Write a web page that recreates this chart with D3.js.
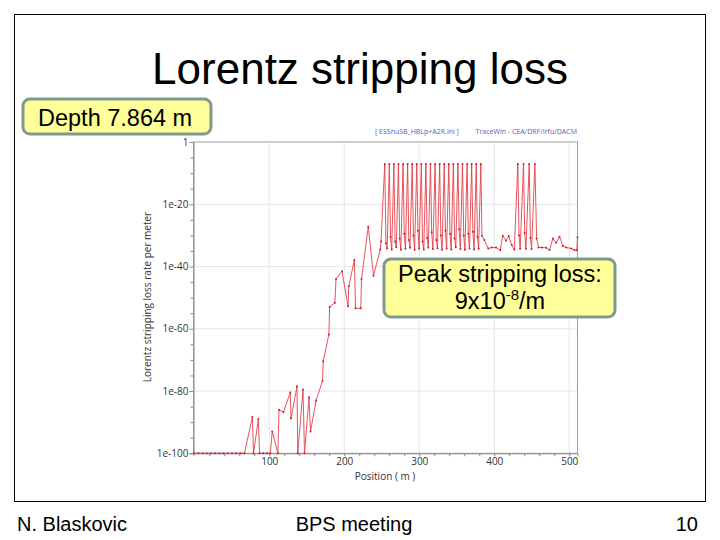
<!DOCTYPE html>
<html>
<head>
<meta charset="utf-8">
<script src="https://cdn.jsdelivr.net/npm/d3@7/dist/d3.min.js"></script>
<style>
  html, body { margin: 0; padding: 0; background: #fff; }
  svg { display: block; }
</style>
</head>
<body>
<svg id="slide" width="720" height="540"></svg>
<script>
// ---------------- data ----------------
const titleText = "Lorentz stripping loss";
const depthText = "Depth 7.864 m";
const footerLeft = "N. Blaskovic";
const footerMid = "BPS meeting";
const footerRight = "10";
const fileTag = "[ ESSnuSB_HBLp+A2R.ini ]";
const toolTag = "TraceWin - CEA/DRF/Irfu/DACM";
const xLabel = "Position ( m )";
const yLabel = "Lorentz stripping loss rate per meter";

const xTickValues = [100, 200, 300, 400, 500];
const yTickExponents = [0, -20, -40, -60, -80, -100];
const yTickLabels = ["1", "1e-20", "1e-40", "1e-60", "1e-80", "1e-100"];

// Position along the line (m)
const position = [
  0, 5.6, 11.2, 16.7, 22.3, 27.9, 33.5, 39.0, 44.6, 50.2, 55.8, 61.3, 66.9,
  77.5, 79.0, 85.5, 87.0, 92.0, 97.0, 101.5, 104.0, 111.5, 113.0, 119.0,
  128.0, 129.0, 137.0, 138.0, 145.0, 147.0, 153.0, 155.0, 162.5, 171.0,
  172.0, 179.5, 180.5, 187.5, 189.0, 197.0, 205.0, 206.0, 213.5, 215.0,
  222.0, 223.0, 232.0, 239.0, 248.0, 249.0,
  254.0, 255.6, 257.2, 260.1, 261.7, 263.3, 266.2, 267.8, 269.4, 272.3, 273.9, 275.5,
  278.4, 280.0, 281.6, 284.5, 286.1, 287.7, 290.6, 292.2, 293.8, 296.7, 298.3, 299.9,
  302.8, 304.4, 306.0, 308.9, 310.5, 312.1, 315.0, 316.6, 318.2, 321.1, 322.7, 324.3,
  327.2, 328.8, 330.4, 333.3, 334.9, 336.5, 339.4, 341.0, 342.6, 345.5, 347.1, 348.7,
  351.6, 353.2, 354.8, 357.7, 359.3, 360.9, 363.8, 365.4, 367.0, 369.9, 371.5, 373.1,
  376.0, 377.6, 379.2, 382.1,
  383.6, 386.8, 392.0, 396.6, 402.4, 408.0, 411.3, 415.7, 419.3, 423.3, 426.8,
  431.4, 433.0, 434.6, 439.0, 440.6, 442.2, 446.6, 448.2, 449.8, 454.2,
  456.5, 459.0, 463.5, 469.2, 473.7, 478.2, 482.6, 487.0, 491.6, 496.0,
  502.7, 507.0, 510.0, 511.0
];

// Loss rate per meter, in decades (log10 of the value)
const logRate = [
  -100, -100, -100, -100, -100, -100, -100, -100, -100, -100, -100, -100, -100,
  -88.3, -100, -89.0, -100, -100, -100, -100, -93.0, -100, -86.0, -86.7,
  -80.5, -88.8, -78.5, -100, -79.5, -100, -82.0, -93.0, -83.0, -76.8,
  -70.4, -61.8, -53.0, -51.6, -44.0, -41.5, -52.8, -46.3, -37.9, -53.4,
  -53.4, -44.0, -27.2, -43.0, -34.5, -32.0,
  -7.1, -32.5, -34.2, -7.1, -30.5, -34.5, -7.1, -32.0, -33.8, -7.1, -31.0, -34.6,
  -7.1, -29.5, -34.3, -7.1, -31.5, -34.0, -7.1, -30.0, -34.6, -7.1, -28.5, -34.2,
  -7.1, -32.0, -34.5, -7.1, -30.8, -33.9, -7.1, -29.0, -34.4, -7.1, -31.5, -34.1,
  -7.1, -30.0, -34.6, -7.1, -28.5, -34.2, -7.1, -29.5, -34.5, -7.1, -31.0, -33.8,
  -7.1, -28.0, -34.4, -7.1, -30.0, -34.6, -7.1, -29.5, -34.2, -7.1, -28.8, -34.5,
  -7.1, -30.5, -34.3, -7.1,
  -30.1, -31.5, -34.2, -33.9, -33.9, -34.7, -30.1, -31.7, -30.2, -33.1, -34.5,
  -7.1, -30.0, -34.3, -7.1, -29.2, -34.3, -7.1, -30.8, -34.4, -7.1,
  -31.0, -33.9, -33.9, -34.0, -34.7, -31.0, -32.4, -30.4, -33.4, -33.9,
  -34.2, -34.7, -34.8, -30.6
];

const peakLine1 = "Peak stripping loss:";
const peakMantissa = "9x10";
const peakExponent = "-8";
const peakUnit = "/m";

// ---------------- drawing ----------------
const svg = d3.select("#slide");
const slideFont = "'Liberation Sans', Arial, sans-serif";
const chartFont = "'Open Sans', 'Noto Sans', sans-serif";

svg.append("rect").attr("width", 720).attr("height", 540).attr("fill", "#fff");

// slide frame
svg.append("rect").attr("x", 14.5).attr("y", 14.5).attr("width", 691).attr("height", 487)
  .attr("fill", "none").attr("stroke", "#000").attr("stroke-width", 1);

// title
svg.append("text").attr("x", 360).attr("y", 84).attr("text-anchor", "middle")
  .attr("font-family", slideFont).attr("font-size", 44).attr("fill", "#000").text(titleText);

// plot area
const plot = { left: 193.5, right: 577.5, top: 142, bottom: 453.3 };
const x = d3.scaleLinear().domain([-1, 511]).range([plot.left, plot.right]);
const y = d3.scaleLog().domain([1e-100, 1]).range([plot.bottom, plot.top]);

const data = position.map((p, i) => ({ p, v: Math.pow(10, logRate[i]) }));

const g = svg.append("g");

// grid
g.append("g").selectAll("line").data(xTickValues).join("line")
  .attr("x1", d => x(d)).attr("x2", d => x(d)).attr("y1", plot.top).attr("y2", plot.bottom)
  .attr("stroke", "#e6e6e6").attr("stroke-width", 1);
g.append("g").selectAll("line").data(yTickExponents.filter(e => e !== 0 && e !== -100)).join("line")
  .attr("x1", plot.left).attr("x2", plot.right)
  .attr("y1", d => y(Math.pow(10, d))).attr("y2", d => y(Math.pow(10, d)))
  .attr("stroke", "#e6e6e6").attr("stroke-width", 1);

// frame of plot
g.append("rect").attr("x", plot.left).attr("y", plot.top)
  .attr("width", plot.right - plot.left).attr("height", plot.bottom - plot.top)
  .attr("fill", "none").attr("stroke", "#a0a0a0").attr("stroke-width", 1);

// y axis
const yMinor = d3.range(0, -101, -5).map(e => Math.pow(10, e));
const yAxis = d3.axisLeft(y).tickValues(yMinor).tickSize(4)
  .tickFormat(d => {
    const e = Math.round(Math.log10(d));
    const idx = yTickExponents.indexOf(e);
    return idx >= 0 ? yTickLabels[idx] : "";
  });
const yg = svg.append("g").attr("transform", `translate(${plot.left},0)`).call(yAxis);
yg.select(".domain").attr("stroke", "#8a8a8a");
yg.selectAll(".tick line").attr("stroke", "#8a8a8a")
  .attr("x2", d => yTickExponents.includes(Math.round(Math.log10(d))) ? -4 : -3);
yg.selectAll(".tick text").attr("font-family", chartFont).attr("font-size", 10)
  .attr("fill", "#333").attr("x", -5);

// x axis
const xMinor = d3.range(20, 511, 20);
const xAxis = d3.axisBottom(x).tickValues(xMinor).tickSize(3)
  .tickFormat(d => xTickValues.includes(d) ? String(d) : "");
const xg = svg.append("g").attr("transform", `translate(0,${plot.bottom})`).call(xAxis);
xg.select(".domain").attr("stroke", "#8a8a8a");
xg.selectAll(".tick line").attr("stroke", "#8a8a8a");
xg.selectAll(".tick text").attr("font-family", chartFont).attr("font-size", 10)
  .attr("fill", "#333").attr("y", 5);

// axis labels
svg.append("text").attr("x", 385).attr("y", 480).attr("text-anchor", "middle")
  .attr("font-family", chartFont).attr("font-size", 10).attr("fill", "#333").text(xLabel);
svg.append("text").attr("transform", "translate(151,297) rotate(-90)").attr("text-anchor", "middle")
  .attr("font-family", chartFont).attr("font-size", 10).attr("fill", "#333").text(yLabel);

// header tags
svg.append("text").attr("x", 375).attr("y", 134).attr("font-family", chartFont)
  .attr("font-size", 7).attr("fill", "#5a5ad0").text(fileTag);
svg.append("text").attr("x", 577).attr("y", 134).attr("text-anchor", "end").attr("font-family", chartFont)
  .attr("font-size", 7).attr("fill", "#5a5ad0").text(toolTag);

// series
const line = d3.line().x(d => x(d.p)).y(d => y(d.v));
svg.append("path").datum(data).attr("d", line).attr("fill", "none")
  .attr("stroke", "#e3414b").attr("stroke-width", 0.9);
svg.append("g").selectAll("circle").data(data).join("circle")
  .attr("cx", d => x(d.p)).attr("cy", d => y(d.v)).attr("r", 1).attr("fill", "#c8202c");

// callout boxes
function box(x0, y0, w, h) {
  svg.append("rect").attr("x", x0).attr("y", y0).attr("width", w).attr("height", h)
    .attr("rx", 7).attr("ry", 7).attr("fill", "#ffff99")
    .attr("stroke", "#7f9a8c").attr("stroke-width", 3);
}
box(23, 99, 188, 35);
svg.append("text").attr("x", 38).attr("y", 126).attr("font-family", slideFont)
  .attr("font-size", 23.5).attr("fill", "#000").text(depthText);

box(384, 259, 231, 58);
svg.append("text").attr("x", 500).attr("y", 282).attr("text-anchor", "middle")
  .attr("font-family", slideFont).attr("font-size", 23.5).attr("fill", "#000").text(peakLine1);
const t2 = svg.append("text").attr("x", 500).attr("y", 309).attr("text-anchor", "middle")
  .attr("font-family", slideFont).attr("font-size", 23.5).attr("fill", "#000");
t2.append("tspan").text(peakMantissa);
t2.append("tspan").attr("font-size", 15).attr("dy", -9).text(peakExponent);
t2.append("tspan").attr("dy", 9).text(peakUnit);

// footer
svg.append("text").attr("x", 17).attr("y", 531).attr("font-family", slideFont)
  .attr("font-size", 20).attr("fill", "#000").text(footerLeft);
svg.append("text").attr("x", 354).attr("y", 531).attr("text-anchor", "middle").attr("font-family", slideFont)
  .attr("font-size", 20).attr("fill", "#000").text(footerMid);
svg.append("text").attr("x", 698).attr("y", 531).attr("text-anchor", "end").attr("font-family", slideFont)
  .attr("font-size", 20).attr("fill", "#000").text(footerRight);
</script>
</body>
</html>
